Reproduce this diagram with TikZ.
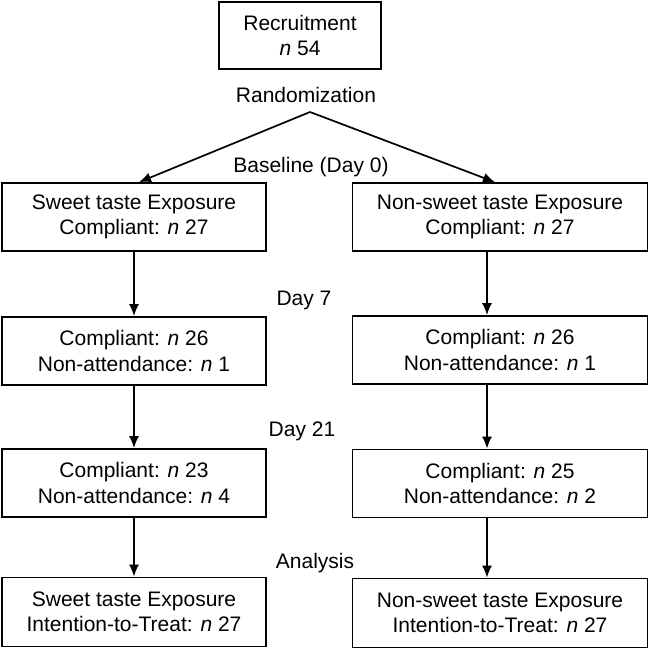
\documentclass[tikz,border=0pt]{standalone}
\usepackage{fontspec}
\setmainfont{Liberation Sans}
\usetikzlibrary{arrows.meta}
\begin{document}
\begin{tikzpicture}[x=1pt,y=-1pt,
  every node/.style={font=\fontsize{21}{25.5}\selectfont},
  box/.style={draw,line width=1.7pt,align=center,inner sep=0pt,anchor=center},
  lbl/.style={inner sep=0pt,anchor=center},
  arr/.style={line width=1.7pt,-{Latex[length=12pt,width=10pt]}}]
\useasboundingbox (0,0) rectangle (649,649);
% top box
\node[box,minimum width=162pt,minimum height=67pt] (rec) at (300,35.5) {Recruitment\\\textit{n} 54};
\node[lbl] (rand) at (306,95) {Randomization};
\coordinate (apex) at (310,112);
% time-point labels
\node[lbl] (base) at (311,167) {Baseline (Day 0)};
\node[lbl] (d7) at (304,300) {Day 7};
\node[lbl] (d21) at (302,431) {Day 21};
\node[lbl] (ana) at (315,563) {Analysis};
% left arm
\node[box,minimum width=264pt,minimum height=68pt] (L1) at (134,217) {Sweet taste Exposure\\Compliant: \textit{n} 27};
\node[box,minimum width=264pt,minimum height=68pt] (L2) at (134,351) {Compliant: \textit{n} 26\\Non-attendance: \textit{n} 1};
\node[box,minimum width=264pt,minimum height=68pt] (L3) at (134,483) {Compliant: \textit{n} 23\\Non-attendance: \textit{n} 4};
\node[box,minimum width=264pt,minimum height=69pt] (L4) at (134,612) {Sweet taste Exposure\\Intention-to-Treat: \textit{n} 27};
% right arm
\node[box,minimum width=295pt,minimum height=68pt] (R1) at (500,217) {Non-sweet taste Exposure\\Compliant: \textit{n} 27};
\node[box,minimum width=295pt,minimum height=68pt] (R2) at (500,350) {Compliant: \textit{n} 26\\Non-attendance: \textit{n} 1};
\node[box,minimum width=295pt,minimum height=68pt] (R3) at (500,483.5) {Compliant: \textit{n} 25\\Non-attendance: \textit{n} 2};
\node[box,minimum width=295pt,minimum height=69pt] (R4) at (500,613) {Non-sweet taste Exposure\\Intention-to-Treat: \textit{n} 27};
% randomisation split
\coordinate (lx) at (139,0);
\coordinate (rx) at (495,0);
\draw[arr] (apex) -- (L1.north -| lx);
\draw[arr] (apex) -- (R1.north -| rx);
% follow-up arrows
\coordinate (rv) at (487,0);
\draw[arr] (L1) -- (L2);
\draw[arr] (L2) -- (L3);
\draw[arr] (L3) -- (L4);
\draw[arr] (R1.south -| rv) -- (R2.north -| rv);
\draw[arr] (R2.south -| rv) -- (R3.north -| rv);
\draw[arr] (R3.south -| rv) -- (R4.north -| rv);
\end{tikzpicture}
\end{document}
